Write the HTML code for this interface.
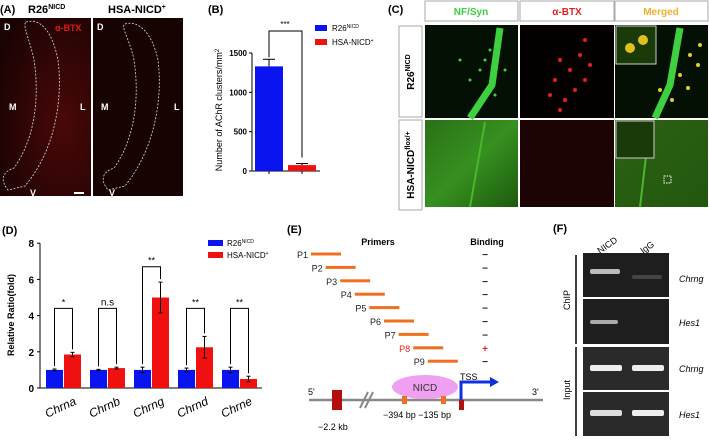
<!DOCTYPE html>
<html><head><meta charset="utf-8"><style>
body{margin:0;background:#fff;font-family:"Liberation Sans",sans-serif}
svg text{font-family:"Liberation Sans",sans-serif}
</style></head><body>
<svg id="fig" width="709" height="436" viewBox="0 0 709 436" xmlns="http://www.w3.org/2000/svg">
<defs>
<radialGradient id="redA" cx="0.7" cy="0.6" r="0.8"><stop offset="0" stop-color="#4a0808"/><stop offset="1" stop-color="#1a0303"/></radialGradient>
<linearGradient id="grn" x1="0" y1="0" x2="1" y2="1"><stop offset="0" stop-color="#2a7018"/><stop offset="0.5" stop-color="#36901f"/><stop offset="1" stop-color="#1d5a0e"/></linearGradient>
<linearGradient id="mrg" x1="0" y1="0" x2="1" y2="1"><stop offset="0" stop-color="#2d6014"/><stop offset="1" stop-color="#22580e"/></linearGradient>
</defs>

<!-- Panel A -->
<g>
<text x="0" y="13" font-size="11" font-weight="bold">(A)</text>
<text x="28" y="13" font-size="11" font-weight="bold">R26<tspan font-size="7" dy="-4">NICD</tspan></text>
<text x="108" y="13" font-size="11" font-weight="bold">HSA-NICD<tspan font-size="7" dy="-4">+</tspan></text>
<rect x="0" y="18" width="91" height="178" fill="url(#redA)"/>
<rect x="93" y="18" width="90" height="178" fill="#180303"/>
<path d="M26,22 C40,18 52,30 58,60 C63,100 55,150 25,186 L8,190 C0,180 2,172 14,168 C34,140 40,100 34,60 C30,40 22,25 26,22Z" fill="none" stroke="#ddd" stroke-dasharray="2,1.5" stroke-width="0.8"/>
<path d="M125,24 C138,20 152,32 158,60 C163,100 154,150 125,186 L108,190 C100,180 102,172 114,168 C134,140 140,100 134,60 C130,40 120,26 125,24Z" fill="none" stroke="#ddd" stroke-dasharray="2,1.5" stroke-width="0.8"/>
<g fill="#fff" font-size="9" font-weight="bold">
<text x="4" y="30">D</text><text x="9" y="110">M</text><text x="80" y="110">L</text><text x="30" y="196">V</text>
<text x="97" y="30">D</text><text x="101" y="110">M</text><text x="174" y="110">L</text><text x="109" y="196">V</text></g>
<text x="55" y="31" font-size="9" fill="#e01818" font-weight="bold">α-BTX</text>
<rect x="74" y="192" width="10" height="2" fill="#fff"/>
</g>

<!-- Panel B -->
<g id="chartB">
<text x="208" y="13" font-size="11" font-weight="bold">(B)</text>
<text transform="translate(222,110) rotate(-90)" font-size="9" text-anchor="middle">Number of AChR clusters/mm<tspan font-size="6" dy="-3">2</tspan></text>
</g>

<!-- Panel C -->
<g>
<text x="388" y="13" font-size="11" font-weight="bold">(C)</text>
<rect x="425" y="1" width="93" height="20" fill="#fff" stroke="#aaa"/><text x="471" y="15" font-size="10" font-weight="bold" fill="#3ecf3e" text-anchor="middle">NF/Syn</text>
<rect x="520" y="1" width="94" height="20" fill="#fff" stroke="#aaa"/><text x="567" y="15" font-size="10" font-weight="bold" fill="#e52020" text-anchor="middle">α-BTX</text>
<rect x="615" y="1" width="93" height="20" fill="#fff" stroke="#aaa"/><text x="661" y="15" font-size="10" font-weight="bold" fill="#f0b030" text-anchor="middle">Merged</text>
<rect x="399" y="26" width="23" height="91" fill="#fff" stroke="#aaa"/>
<text transform="translate(414,72) rotate(-90)" font-size="10" font-weight="bold" text-anchor="middle">R26<tspan font-size="7" dy="-4">NICD</tspan></text>
<rect x="399" y="120" width="23" height="90" fill="#fff" stroke="#aaa"/>
<text transform="translate(414,165) rotate(-90)" font-size="10" font-weight="bold" text-anchor="middle">HSA-NICD<tspan font-size="7" dy="-4">flox/+</tspan></text>
<rect x="425" y="25" width="93" height="93" fill="#031003"/>
<rect x="520" y="25" width="94" height="93" fill="#050000"/>
<rect x="615" y="25" width="93" height="93" fill="#031003"/>
<path d="M500,28 L492,85 L470,118" stroke="#3fd03f" stroke-width="7" fill="none"/>
<path d="M680,28 L670,85 L655,118" stroke="#3fd03f" stroke-width="7" fill="none"/>
<g fill="#e02020"><circle cx="560" cy="60" r="2"/><circle cx="570" cy="70" r="2"/><circle cx="555" cy="80" r="2"/><circle cx="580" cy="55" r="2"/><circle cx="550" cy="95" r="2"/><circle cx="585" cy="40" r="2"/><circle cx="575" cy="90" r="2"/><circle cx="565" cy="100" r="2"/><circle cx="590" cy="65" r="2"/><circle cx="585" cy="80" r="2"/><circle cx="560" cy="110" r="2"/></g>
<g fill="#e0d020"><circle cx="690" cy="55" r="2"/><circle cx="698" cy="65" r="2"/><circle cx="680" cy="75" r="2"/><circle cx="660" cy="90" r="2"/><circle cx="672" cy="100" r="2"/><circle cx="700" cy="45" r="2"/><circle cx="688" cy="88" r="2"/></g>
<g fill="#3fd03f"><circle cx="490" cy="50" r="1.5"/><circle cx="480" cy="70" r="1.5"/><circle cx="495" cy="95" r="1.5"/><circle cx="470" cy="80" r="1.5"/><circle cx="485" cy="60" r="1.5"/><circle cx="505" cy="70" r="1.5"/><circle cx="460" cy="60" r="1.5"/></g>
<rect x="616" y="26" width="40" height="38" fill="#1a3a0a" stroke="#ccc"/>
<circle cx="630" cy="48" r="5" fill="#e0c020"/><circle cx="643" cy="40" r="5" fill="#e0c020"/>
<rect x="425" y="120" width="93" height="87" fill="url(#grn)"/>
<rect x="520" y="120" width="94" height="87" fill="#1c0404"/>
<rect x="615" y="120" width="93" height="87" fill="url(#mrg)"/>
<path d="M485,122 L470,207 M650,122 L640,207" stroke="#4ab82a" stroke-width="2" fill="none"/>
<rect x="616" y="121" width="38" height="37" fill="#1a3a0a" stroke="#ccc"/>
<rect x="664" y="176" width="7" height="7" fill="none" stroke="#fff" stroke-dasharray="1.5,1"/>
</g>

<!-- Panel D -->
<g id="chartD">
<text x="2" y="234" font-size="11" font-weight="bold">(D)</text>
<text transform="translate(14,315) rotate(-90)" font-size="9" font-weight="bold" text-anchor="middle">Relative Ratio(fold)</text>
</g>

<!-- Panel E -->
<g>
<text x="287" y="233" font-size="11" font-weight="bold">(E)</text>
<text x="378" y="245" font-size="9" font-weight="bold" text-anchor="middle">Primers</text>
<text x="487" y="245" font-size="9" font-weight="bold" text-anchor="middle">Binding</text>
<g id="primers"></g>
<line x1="309" y1="400" x2="543" y2="400" stroke="#888" stroke-width="2.5"/>
<rect x="332" y="390" width="10" height="20" fill="#b01010"/>
<path d="M360,408 L368,392 M365,408 L373,392" stroke="#888" stroke-width="2"/>
<ellipse cx="425" cy="387" rx="33" ry="12" fill="#f0a0f0"/>
<text x="425" y="391" font-size="10" text-anchor="middle" fill="#333">NICD</text>
<rect x="402" y="396" width="5" height="8" fill="#f07020"/><rect x="441" y="396" width="5" height="8" fill="#f07020"/>
<rect x="459" y="400" width="5" height="10" fill="#b01010"/>
<path d="M461,400 L461,382 L492,382" stroke="#1030e0" stroke-width="3" fill="none"/>
<path d="M490,377 L499,382 L490,387Z" fill="#1030e0"/>
<text x="460" y="380" font-size="9">TSS</text>
<text x="308" y="395" font-size="9">5'</text><text x="532" y="395" font-size="9">3'</text>
<text x="383" y="418" font-size="9">−394 bp −135 bp</text>
<text x="318" y="430" font-size="9">−2.2 kb</text>
</g>

<!-- Panel F -->
<g>
<text x="553" y="232" font-size="11" font-weight="bold">(F)</text>
<text transform="translate(600,254) rotate(-35)" font-size="9">NICD</text>
<text transform="translate(643,254) rotate(-35)" font-size="9">IgG</text>
<rect x="583" y="253" width="86" height="44" fill="#1e1e1e"/>
<rect x="583" y="299" width="86" height="45" fill="#1e1e1e"/>
<rect x="583" y="347" width="86" height="43" fill="#2a2a2a"/>
<rect x="583" y="392" width="86" height="44" fill="#2a2a2a"/>
<rect x="590" y="269" width="30" height="5" rx="2" fill="#bbb"/>
<rect x="632" y="275" width="30" height="4" rx="2" fill="#444"/>
<rect x="590" y="320" width="28" height="4" rx="2" fill="#aaa"/>
<rect x="590" y="365" width="32" height="6" rx="2" fill="#eee"/>
<rect x="632" y="365" width="32" height="6" rx="2" fill="#eee"/>
<rect x="590" y="410" width="32" height="6" rx="2" fill="#ddd"/>
<rect x="632" y="410" width="32" height="6" rx="2" fill="#eee"/>
<line x1="576" y1="255" x2="576" y2="344" stroke="#000" stroke-width="1.5"/>
<line x1="576" y1="347" x2="576" y2="436" stroke="#000" stroke-width="1.5"/>
<text transform="translate(570,300) rotate(-90)" font-size="9" text-anchor="middle">ChIP</text>
<text transform="translate(570,390) rotate(-90)" font-size="9" text-anchor="middle">Input</text>
<g font-size="9" font-style="italic"><text x="679" y="282">Chrng</text><text x="679" y="326">Hes1</text><text x="679" y="372">Chrng</text><text x="679" y="418">Hes1</text></g>
</g>
</svg>
<script>
// Panel B data
const bCats = ["R26NICD","HSA-NICD+"];
const bVals = [1330, 75];
const bErr = [90, 20];
const bTicks = [0, 500, 1000, 1500];
// Panel D data
const dCats = ["Chrna","Chrnb","Chrng","Chrnd","Chrne"];
const dBlue = [1.0, 1.0, 1.0, 1.0, 1.0];
const dBlueErr = [0.05, 0.03, 0.15, 0.1, 0.15];
const dRed = [1.85, 1.1, 5.0, 2.25, 0.5];
const dRedErr = [0.12, 0.05, 0.85, 0.6, 0.15];
const dSig = ["*","n.s","**","**","**"];
const dSigH = [4.4, 4.4, 6.7, 4.4, 4.4];
const dTicks = [0, 2, 4, 6, 8];
// Panel E data
const pNames = ["P1","P2","P3","P4","P5","P6","P7","P8","P9"];
const pBind = ["−","−","−","−","−","−","−","+","−"];

const NS="http://www.w3.org/2000/svg";
function mk(tag, attrs, parent, txt){const e=document.createElementNS(NS,tag);for(const k in attrs)e.setAttribute(k,attrs[k]);if(txt!==undefined)e.textContent=txt;parent.appendChild(e);return e;}

// Chart B
(function(){
 const g=document.getElementById('chartB');
 const yB=v=>171-(v/1500)*118;
 mk('line',{x1:252,y1:yB(0),x2:252,y2:yB(1500),stroke:'#000'},g);
 mk('line',{x1:252,y1:171,x2:320,y2:171,stroke:'#000'},g);
 bTicks.forEach(t=>{mk('line',{x1:249,y1:yB(t),x2:252,y2:yB(t),stroke:'#000'},g);
  mk('text',{x:247,y:yB(t)+3,'font-size':8,'font-weight':'bold','text-anchor':'end'},g,t);});
 const cols=['#0a14f0','#f01010'];
 bVals.forEach((v,i)=>{const x=255+i*33;
  const r=mk('rect',{x:x,y:yB(v),width:28,height:171-yB(v),fill:cols[i]},g);
  
  
  const cx=x+14;
  mk('line',{x1:cx,y1:yB(v),x2:cx,y2:yB(v+bErr[i]),stroke:'#000'},g);
  mk('line',{x1:cx-6,y1:yB(v+bErr[i]),x2:cx+6,y2:yB(v+bErr[i]),stroke:'#000'},g);
  mk('line',{x1:cx,y1:171,x2:cx,y2:174,stroke:'#000'},g);
 });
 const top=31;
 mk('path',{d:`M269,${yB(bVals[0]+bErr[0])-2} L269,${top} L302,${top} L302,${yB(bVals[1]+bErr[1])-6}`,fill:'none',stroke:'#000'},g);
 mk('text',{x:285,y:top-4,'font-size':8,'text-anchor':'middle'},g,'***');
 mk('rect',{x:315,y:25,width:12,height:6,fill:cols[0]},g);
 mk('rect',{x:315,y:39,width:12,height:6,fill:cols[1]},g);
 const t1=mk('text',{x:332,y:31,'font-size':8},g,'R26');mk('tspan',{'font-size':5,dy:-3},t1,'NICD');
 const t2=mk('text',{x:332,y:45,'font-size':8},g,'HSA-NICD');mk('tspan',{'font-size':5,dy:-3},t2,'+');
})();

// Chart D
(function(){
 const g=document.getElementById('chartD');
 const yD=v=>388-v*18.1;
 mk('line',{x1:40,y1:yD(0),x2:40,y2:yD(8),stroke:'#000'},g);
 mk('line',{x1:40,y1:388,x2:262,y2:388,stroke:'#000'},g);
 dTicks.forEach(t=>{mk('line',{x1:37,y1:yD(t),x2:40,y2:yD(t),stroke:'#000'},g);
  mk('text',{x:34,y:yD(t)+4,'font-size':10,'font-weight':'bold','text-anchor':'end'},g,t);});
 dCats.forEach((c,i)=>{const x0=46+i*44;
  const series=[[dBlue[i],dBlueErr[i],'#0a14f0',x0],[dRed[i],dRedErr[i],'#f01010',x0+18]];
  series.forEach((s,j)=>{const r=mk('rect',{x:s[3],y:yD(s[0]),width:17,height:388-yD(s[0]),fill:s[2]},g);
   
   
   const cx=s[3]+8.5;
   mk('line',{x1:cx,y1:yD(s[0]-s[1]),x2:cx,y2:yD(s[0]+s[1]),stroke:'#000'},g);
   mk('line',{x1:cx-2,y1:yD(s[0]-s[1]),x2:cx+2,y2:yD(s[0]-s[1]),stroke:'#000'},g);
   mk('line',{x1:cx-2,y1:yD(s[0]+s[1]),x2:cx+2,y2:yD(s[0]+s[1]),stroke:'#000'},g);});
  const bx=x0+8.5, rx=x0+26.5, h=yD(dSigH[i]);
  mk('path',{d:`M${bx},${yD(dBlue[i]+dBlueErr[i])-3} L${bx},${h} L${rx},${h} L${rx},${yD(dRed[i]+dRedErr[i])-3}`,fill:'none',stroke:'#000'},g);
  mk('text',{x:(bx+rx)/2,y:h-3,'font-size':dSig[i]==='n.s'?10:9,'text-anchor':'middle'},g,dSig[i]);
  mk('text',{transform:`translate(${x0+31},404) rotate(-25)`,'font-size':12,'font-style':'italic','text-anchor':'end'},g,c);
 });
 mk('rect',{x:208,y:240,width:15,height:6,fill:'#0a14f0'},g);
 mk('rect',{x:208,y:252,width:15,height:6,fill:'#f01010'},g);
 const t1=mk('text',{x:227,y:246,'font-size':8},g,'R26');mk('tspan',{'font-size':5,dy:-3},t1,'NICD');
 const t2=mk('text',{x:227,y:258,'font-size':8},g,'HSA-NICD');mk('tspan',{'font-size':5,dy:-3},t2,'+');
})();

// Primers
(function(){
 const g=document.getElementById('primers');
 pNames.forEach((p,i)=>{const x=311+i*14.6, y=254+i*13.4;
  const red=pBind[i]==='+';
  mk('text',{x:x-3,y:y+4,'font-size':9,'text-anchor':'end',fill:red?'#f02020':'#222'},g,p);
  const l=mk('rect',{x:x,y:y-1.5,width:30,height:3,fill:'#f07020'},g);
  
  
  mk('text',{x:485,y:y+4,'font-size':10,'text-anchor':'middle',fill:red?'#f02020':'#222','font-weight':'bold'},g,pBind[i]);
 });
})();
</script>
</body></html>
